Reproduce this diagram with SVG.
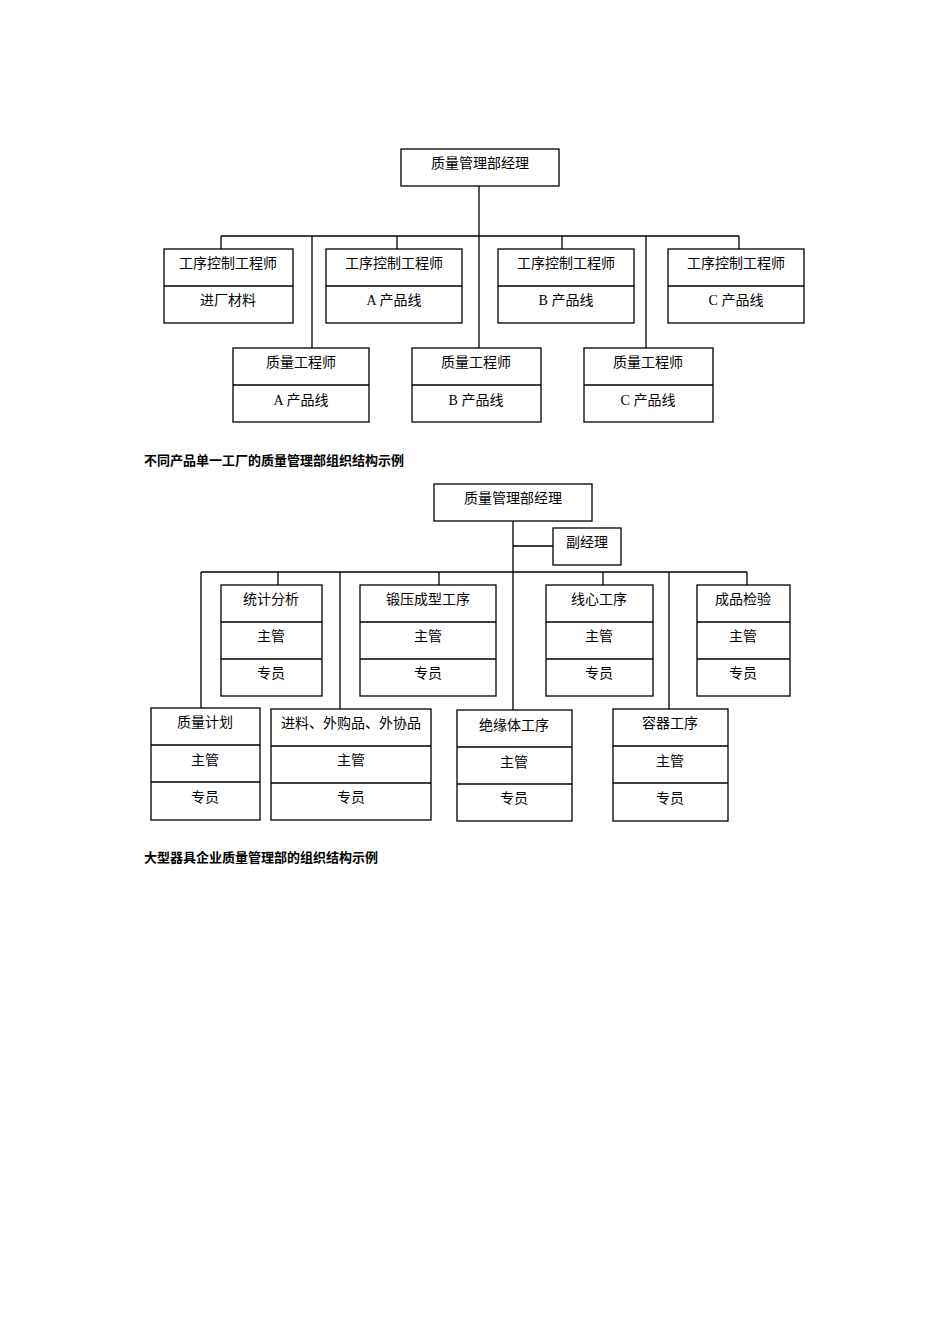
<svg xmlns="http://www.w3.org/2000/svg" width="950" height="1344" viewBox="0 0 950 1344">
<style>
rect{fill:#fff;stroke:#000;stroke-width:1.3}
line{stroke:#000;stroke-width:1.3}
text{font-family:"Liberation Serif","Noto Sans CJK SC",serif;font-size:14px;text-anchor:middle;fill:#000}
.cap{font-family:"Liberation Sans","Noto Sans CJK SC",sans-serif;font-size:13px;font-weight:bold;text-anchor:start}
</style>
<rect x="0" y="0" width="950" height="1344" style="stroke:none"/>
<g id="connectors">
<line x1="479" y1="186" x2="479" y2="348"/>
<line x1="221" y1="236" x2="739" y2="236"/>
<line x1="221" y1="236" x2="221" y2="249"/>
<line x1="397" y1="236" x2="397" y2="249"/>
<line x1="562" y1="236" x2="562" y2="249"/>
<line x1="739" y1="236" x2="739" y2="249"/>
<line x1="312" y1="236" x2="312" y2="348"/>
<line x1="646" y1="236" x2="646" y2="348"/>
<line x1="513" y1="521" x2="513" y2="710"/>
<line x1="513" y1="546" x2="553" y2="546"/>
<line x1="201" y1="572" x2="747" y2="572"/>
<line x1="278" y1="572" x2="278" y2="585"/>
<line x1="439" y1="572" x2="439" y2="585"/>
<line x1="603" y1="572" x2="603" y2="585"/>
<line x1="747" y1="572" x2="747" y2="585"/>
<line x1="201" y1="572" x2="201" y2="708"/>
<line x1="340" y1="572" x2="340" y2="709"/>
<line x1="669" y1="572" x2="669" y2="709"/>
</g>
<g id="n1"><rect x="401" y="149" width="158" height="37"/><text x="480" y="168">质量管理部经理</text></g>
<g id="n2"><rect x="164" y="249" width="129" height="74"/><line x1="164" y1="286" x2="293" y2="286"/><text x="228" y="268">工序控制工程师</text><text x="228" y="305">进厂材料</text></g>
<g id="n3"><rect x="326" y="249" width="136" height="74"/><line x1="326" y1="286" x2="462" y2="286"/><text x="394" y="268">工序控制工程师</text><text x="394" y="305">A 产品线</text></g>
<g id="n4"><rect x="498" y="249" width="136" height="74"/><line x1="498" y1="286" x2="634" y2="286"/><text x="566" y="268">工序控制工程师</text><text x="566" y="305">B 产品线</text></g>
<g id="n5"><rect x="668" y="249" width="136" height="74"/><line x1="668" y1="286" x2="804" y2="286"/><text x="736" y="268">工序控制工程师</text><text x="736" y="305">C 产品线</text></g>
<g id="n6"><rect x="233" y="348" width="136" height="74"/><line x1="233" y1="385" x2="369" y2="385"/><text x="301" y="367">质量工程师</text><text x="301" y="405">A 产品线</text></g>
<g id="n7"><rect x="412" y="348" width="129" height="74"/><line x1="412" y1="385" x2="541" y2="385"/><text x="476" y="367">质量工程师</text><text x="476" y="405">B 产品线</text></g>
<g id="n8"><rect x="584" y="348" width="129" height="74"/><line x1="584" y1="385" x2="713" y2="385"/><text x="648" y="367">质量工程师</text><text x="648" y="405">C 产品线</text></g>
<text class="cap" x="144" y="465">不同产品单一工厂的质量管理部组织结构示例</text>
<g id="m1"><rect x="434" y="484" width="158" height="37"/><text x="513" y="503">质量管理部经理</text></g>
<g id="m2"><rect x="553" y="528" width="68" height="37"/><text x="587" y="547">副经理</text></g>
<g id="m3"><rect x="221" y="585" width="101" height="111"/><line x1="221" y1="622" x2="322" y2="622"/><line x1="221" y1="659" x2="322" y2="659"/><text x="271" y="604">统计分析</text><text x="271" y="641">主管</text><text x="271" y="678">专员</text></g>
<g id="m4"><rect x="360" y="585" width="136" height="111"/><line x1="360" y1="622" x2="496" y2="622"/><line x1="360" y1="659" x2="496" y2="659"/><text x="428" y="604">锻压成型工序</text><text x="428" y="641">主管</text><text x="428" y="678">专员</text></g>
<g id="m5"><rect x="546" y="585" width="107" height="111"/><line x1="546" y1="622" x2="653" y2="622"/><line x1="546" y1="659" x2="653" y2="659"/><text x="599" y="604">线心工序</text><text x="599" y="641">主管</text><text x="599" y="678">专员</text></g>
<g id="m6"><rect x="697" y="585" width="93" height="111"/><line x1="697" y1="622" x2="790" y2="622"/><line x1="697" y1="659" x2="790" y2="659"/><text x="743" y="604">成品检验</text><text x="743" y="641">主管</text><text x="743" y="678">专员</text></g>
<g id="m7"><rect x="151" y="708" width="109" height="112"/><line x1="151" y1="745" x2="260" y2="745"/><line x1="151" y1="782" x2="260" y2="782"/><text x="205" y="727">质量计划</text><text x="205" y="765">主管</text><text x="205" y="802">专员</text></g>
<g id="m8"><rect x="271" y="709" width="160" height="111"/><line x1="271" y1="746" x2="431" y2="746"/><line x1="271" y1="783" x2="431" y2="783"/><text x="351" y="728">进料、外购品、外协品</text><text x="351" y="765">主管</text><text x="351" y="802">专员</text></g>
<g id="m9"><rect x="457" y="710" width="115" height="111"/><line x1="457" y1="747" x2="572" y2="747"/><line x1="457" y1="784" x2="572" y2="784"/><text x="514" y="730">绝缘体工序</text><text x="514" y="767">主管</text><text x="514" y="803">专员</text></g>
<g id="m10"><rect x="613" y="709" width="115" height="112"/><line x1="613" y1="746" x2="728" y2="746"/><line x1="613" y1="783" x2="728" y2="783"/><text x="670" y="728">容器工序</text><text x="670" y="766">主管</text><text x="670" y="803">专员</text></g>
<text class="cap" x="144" y="862">大型器具企业质量管理部的组织结构示例</text>
</svg>
